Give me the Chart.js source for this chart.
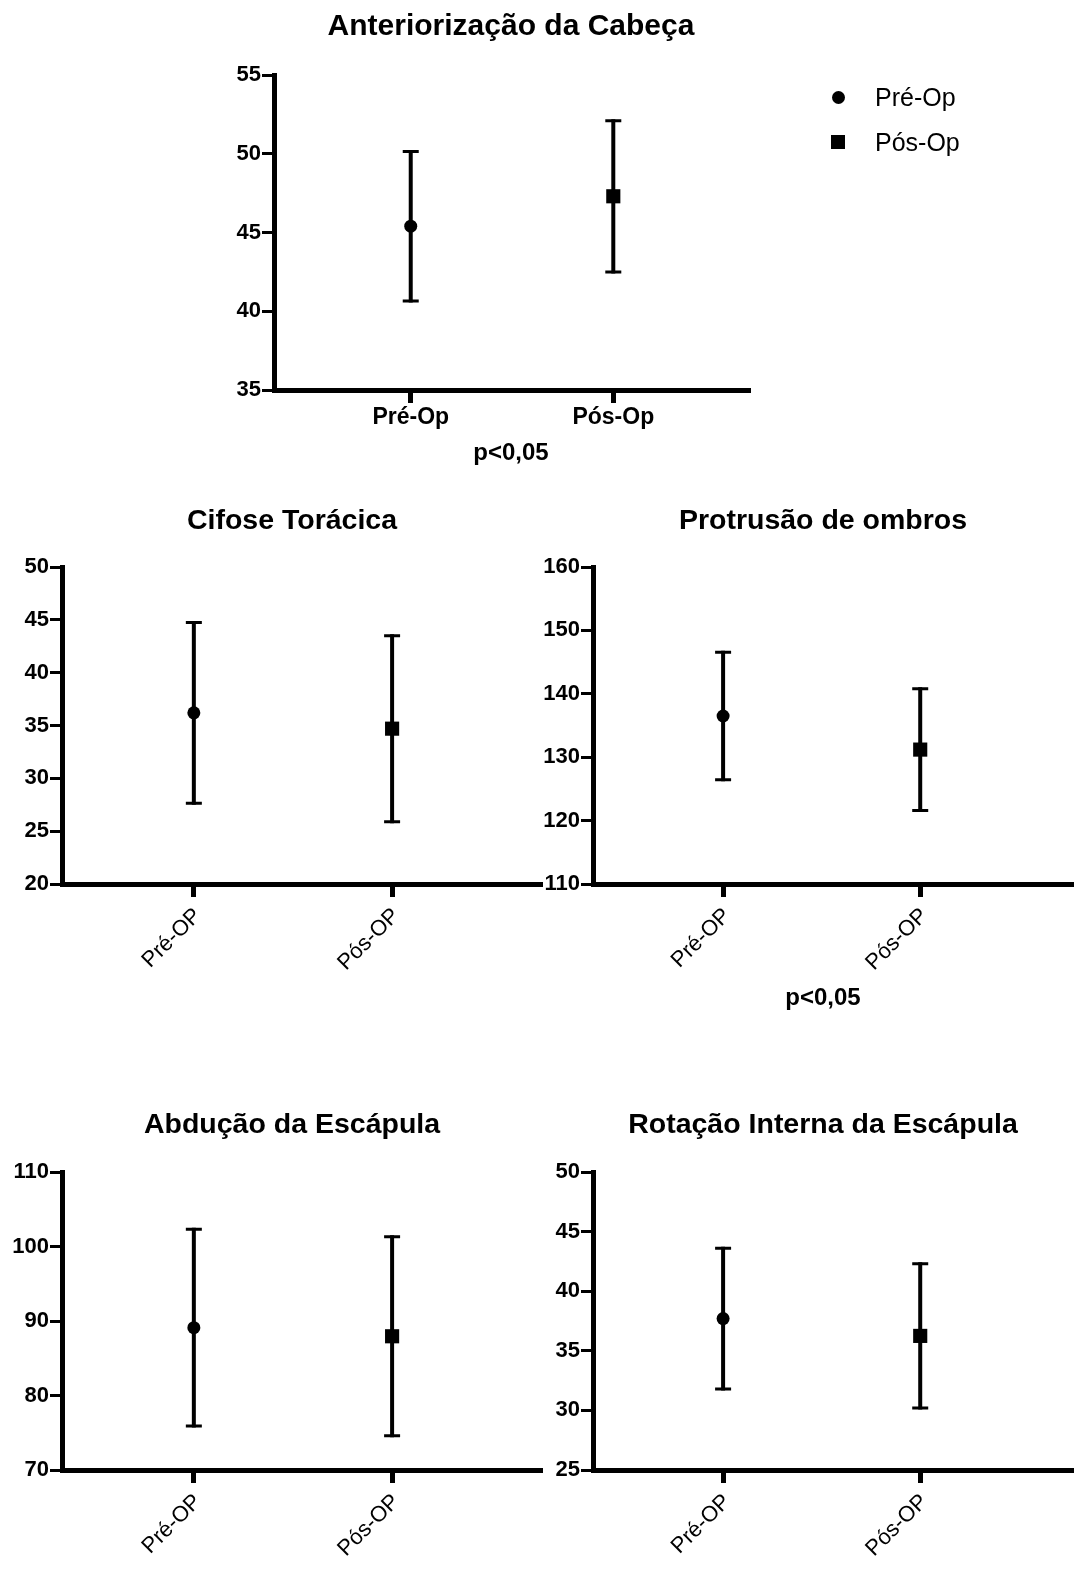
<!DOCTYPE html>
<html>
<head>
<meta charset="utf-8">
<script src="https://cdn.jsdelivr.net/npm/chart.js@4.4.1/dist/chart.umd.min.js"></script>
<style>
  html, body { margin: 0; padding: 0; background: #fff; overflow: hidden; width: 1074px; height: 1583px; position: relative; }
  canvas { position: absolute; }
  .lg-mark { position: absolute; background: #000; }
  .lg-text { position: absolute; font: 25px "Liberation Sans", Arial, sans-serif; color: #000; line-height: 30px; white-space: nowrap; }
</style>
</head>
<body>
<canvas id="c0" width="1074" height="470" style="left:0;top:0"></canvas>
<canvas id="c1" width="600" height="504" style="left:0;top:480px"></canvas>
<canvas id="c2" width="589" height="533" style="left:531px;top:480px"></canvas>
<canvas id="c3" width="600" height="490" style="left:0;top:1080px"></canvas>
<canvas id="c4" width="589" height="490" style="left:531px;top:1080px"></canvas>

<div class="lg-mark" style="left:831.5px;top:90.5px;width:13px;height:13px;border-radius:50%"></div>
<div class="lg-text" style="left:875px;top:82px">Pré-Op</div>
<div class="lg-mark" style="left:831px;top:135px;width:14px;height:14px"></div>
<div class="lg-text" style="left:875px;top:127px">Pós-Op</div>

<script>
// ---------- data ----------
const seriesNames = ['Pré-Op', 'Pós-Op'];
const categoriesTop = ['Pré-Op', 'Pós-Op'];
const categoriesRot = ['Pré-OP', 'Pós-OP'];

const titles = ['Anteriorização da Cabeça', 'Cifose Torácica', 'Protrusão de ombros', 'Abdução da Escápula', 'Rotação Interna da Escápula'];
const pNote = 'p<0,05';

const headMean = [45.4, 47.3];
const headSD = [4.75, 4.8];
const kyphosisMean = [36.2, 34.7];
const kyphosisSD = [8.55, 8.8];
const shoulderMean = [136.5, 131.2];
const shoulderSD = [10.05, 9.6];
const abductionMean = [89.1, 87.95];
const abductionSD = [13.2, 13.35];
const rotationMean = [37.7, 36.25];
const rotationSD = [5.9, 6.05];

const headTicks = [35, 55, 5];
const kyphosisTicks = [20, 50, 5];
const shoulderTicks = [110, 160, 10];
const abductionTicks = [70, 110, 10];
const rotationTicks = [25, 50, 5];

// ---------- rendering ----------
const FONT = '"Liberation Sans", Arial, sans-serif';
Chart.defaults.font.family = FONT;
Chart.defaults.color = '#000';

const errorBars = {
  id: 'errorBars',
  beforeDatasetsDraw(chart) {
    const { ctx, scales: { x, y } } = chart;
    ctx.save();
    ctx.strokeStyle = '#000';
    chart.data.datasets.forEach(ds => {
      ds.data.forEach(p => {
        const px = x.getPixelForValue(p.x);
        const top = y.getPixelForValue(p.y + p.sd);
        const bot = y.getPixelForValue(p.y - p.sd);
        ctx.lineWidth = 4;
        ctx.beginPath();
        ctx.moveTo(px, top - 1.5);
        ctx.lineTo(px, bot + 1.5);
        ctx.stroke();
        ctx.lineWidth = 3;
        ctx.beginPath();
        ctx.moveTo(px - 8, top); ctx.lineTo(px + 8, top);
        ctx.moveTo(px - 8, bot); ctx.lineTo(px + 8, bot);
        ctx.stroke();
      });
    });
    ctx.restore();
  }
};

function makePanel(id, opt) {
  const datasets = [0, 1].map(i => ({
    label: seriesNames[i],
    data: [{ x: i + 1, y: opt.mean[i], sd: opt.sd[i] }],
    pointStyle: i === 0 ? 'circle' : 'rect',
    pointRadius: i === 0 ? 6.5 : 10,
    pointHoverRadius: i === 0 ? 6.5 : 10,
    pointBorderWidth: 0,
    backgroundColor: '#000',
    borderColor: '#000',
    showLine: false
  }));
  const plugins = {
    legend: { display: false },
    tooltip: { enabled: false },
    title: {
      display: true,
      text: opt.title,
      fullSize: opt.titleFull,
      font: { size: opt.titleSize, weight: 'bold' },
      color: '#000',
      padding: { top: opt.titlePad[0], bottom: opt.titlePad[1] }
    }
  };
  if (opt.note) {
    plugins.subtitle = {
      display: true,
      position: 'bottom',
      text: opt.note,
      fullSize: opt.titleFull,
      font: { size: 24, weight: 'bold' },
      color: '#000',
      padding: { top: opt.notePad[0], bottom: opt.notePad[1] }
    };
  }
  const labels = opt.labels;
  const scales = {
    x: {
      type: 'linear',
      min: opt.xRange[0],
      max: opt.xRange[1],
      afterBuildTicks: s => { s.ticks = [{ value: 1 }, { value: 2 }]; },
      afterFit: s => { s.height = opt.xHeight; },
      ticks: {
        callback: v => labels[v - 1],
        minRotation: opt.rot, maxRotation: opt.rot,
        autoSkip: false,
        padding: opt.xPad,
        labelOffset: opt.xOffset,
        color: '#000',
        font: { size: opt.xFontSize, weight: opt.xBold ? 'bold' : 'normal' }
      },
      grid: { drawOnChartArea: false, drawTicks: true, tickLength: 13, tickWidth: 5, lineWidth: 5, color: '#000' },
      border: { display: true, width: 5, color: '#000' }
    },
    y: {
      min: opt.yTicks[0],
      max: opt.yTicks[1],
      afterFit: s => { s.width = opt.yWidth; },
      ticks: { stepSize: opt.yTicks[2], padding: 1, color: '#000', font: { size: 22, weight: 'bold' } },
      grid: { drawOnChartArea: false, drawTicks: true, tickLength: 12, tickWidth: 3, lineWidth: 3, color: '#000' },
      border: { display: true, width: 5, color: '#000' }
    }
  };
  if (opt.rightSpace) {
    // empty right-hand box so the full-width title can be centred like the original
    scales.ySpace = {
      type: 'linear', position: 'right', display: true, min: 0, max: 1,
      afterFit: s => { s.width = opt.rightSpace; },
      ticks: { display: false },
      grid: { display: false },
      border: { display: false }
    };
  }
  return new Chart(document.getElementById(id), {
    type: 'scatter',
    data: { datasets },
    options: {
      responsive: false,
      animation: false,
      devicePixelRatio: 1,
      events: [],
      layout: { padding: opt.padding },
      plugins,
      scales
    },
    plugins: [errorBars]
  });
}

// top panel
makePanel('c0', {
  title: titles[0], titleFull: false, titleSize: 30, titlePad: [9, 30],
  note: pNote, notePad: [3.6, 2.6],
  mean: headMean, sd: headSD, yTicks: headTicks,
  labels: categoriesTop, rot: 0, xBold: true, xFontSize: 23, xPad: 1, xOffset: 0, xHeight: 45,
  xRange: [0.325, 2.665],
  padding: { left: 214, right: 326, top: 0, bottom: 0 }, yWidth: 60
});
// middle left
makePanel('c1', {
  title: titles[1], titleFull: true, titleSize: 28.5, titlePad: [24, 28.8],
  mean: kyphosisMean, sd: kyphosisSD, yTicks: kyphosisTicks,
  labels: categoriesRot, rot: 45, xBold: false, xFontSize: 22, xPad: 6, xOffset: 4, xHeight: 100,
  xRange: [0.335, 2.746],
  padding: { left: 0, right: 16, top: 0, bottom: 0 }, yWidth: 62, rightSpace: 44
});
// middle right
makePanel('c2', {
  title: titles[2], titleFull: true, titleSize: 28.5, titlePad: [24, 28.8],
  note: pNote, notePad: [9.6, 0.6],
  mean: shoulderMean, sd: shoulderSD, yTicks: shoulderTicks,
  labels: categoriesRot, rot: 45, xBold: false, xFontSize: 22, xPad: 6, xOffset: 4, xHeight: 90,
  xRange: [0.34, 2.77],
  padding: { left: 0, right: 5, top: 0, bottom: 0 }, yWidth: 62, rightSpace: 43
});
// bottom left
makePanel('c3', {
  title: titles[3], titleFull: true, titleSize: 28.5, titlePad: [28.3, 29.5],
  mean: abductionMean, sd: abductionSD, yTicks: abductionTicks,
  labels: categoriesRot, rot: 45, xBold: false, xFontSize: 22, xPad: 6, xOffset: 4, xHeight: 100,
  xRange: [0.335, 2.746],
  padding: { left: 0, right: 16, top: 0, bottom: 0 }, yWidth: 62, rightSpace: 44
});
// bottom right
makePanel('c4', {
  title: titles[4], titleFull: true, titleSize: 28.5, titlePad: [28.3, 29.5],
  mean: rotationMean, sd: rotationSD, yTicks: rotationTicks,
  labels: categoriesRot, rot: 45, xBold: false, xFontSize: 22, xPad: 6, xOffset: 4, xHeight: 100,
  xRange: [0.34, 2.77],
  padding: { left: 0, right: 5, top: 0, bottom: 0 }, yWidth: 62, rightSpace: 43
});
</script>
</body>
</html>
